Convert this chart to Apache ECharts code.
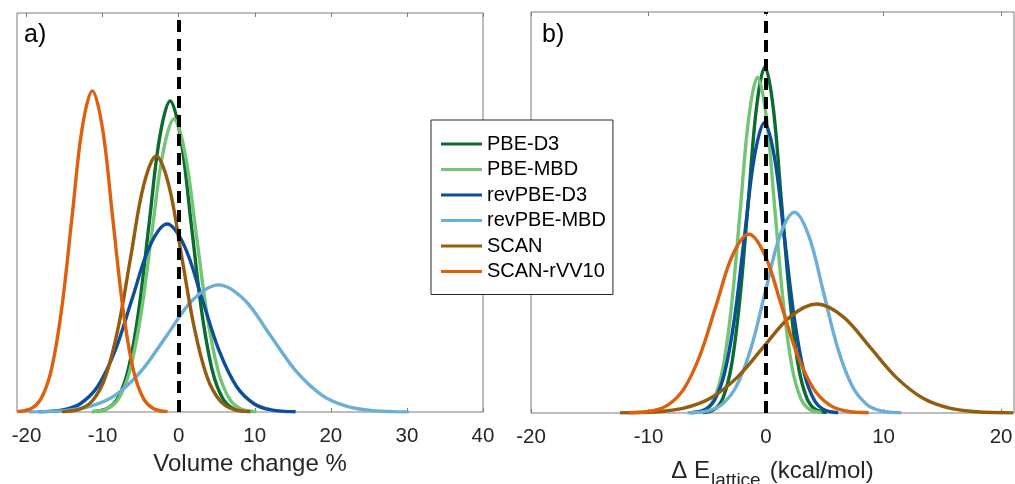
<!DOCTYPE html>
<html>
<head>
<meta charset="utf-8">
<title>Error distributions</title>
<script src="https://cdn.jsdelivr.net/npm/echarts@6/dist/echarts.min.js"></script>
<style>
  html, body { margin: 0; padding: 0; background: #fff; }
  #chart { width: 1015px; height: 484px; }
</style>
</head>
<body>
<div id="chart"></div>
<script>
// Methods shown in both panels (legend order)
const methods = ['PBE-D3', 'PBE-MBD', 'revPBE-D3', 'revPBE-MBD', 'SCAN', 'SCAN-rVV10'];

// Tick labels
const volumeTicks = [-20, -10, 0, 10, 20, 30, 40];
const energyTicks = [-20, -10, 0, 10, 20];

// Panel a) – distribution of volume change (%), [x, density]
const volumePbeD3 = [[-11.33,0.00015],[-9.40,0.00161],[-8.02,0.00635],[-6.64,0.01957],[-5.26,0.04694],[-3.88,0.08770],[-2.50,0.12761],[-1.12,0.1446],[0.26,0.12761],[1.64,0.08770],[3.02,0.04694],[4.40,0.01957],[5.78,0.00635],[7.16,0.00161],[9.09,0.00015]];
const volumePbeMbd = [[-11.45,0.00014],[-9.40,0.00151],[-7.94,0.00598],[-6.48,0.01843],[-5.01,0.04422],[-3.55,0.08261],[-2.08,0.12020],[-0.62,0.1362],[0.84,0.12020],[2.31,0.08261],[3.77,0.04422],[5.24,0.01843],[6.70,0.00598],[8.16,0.00151],[10.21,0.00014]];
const volumeRevPbeD3 = [[-18.41,0.00009],[-15.21,0.00097],[-12.93,0.00384],[-10.65,0.01183],[-8.37,0.02837],[-6.08,0.05301],[-3.80,0.07713],[-1.52,0.0874],[0.76,0.07713],[3.04,0.05301],[5.33,0.02837],[7.61,0.01183],[9.89,0.00384],[12.17,0.00097],[15.37,0.00009]];
const volumeRevPbeMbd = [[-19.75,0.00006],[-15.02,0.00066],[-11.64,0.00260],[-8.26,0.00800],[-4.88,0.01919],[-1.51,0.03585],[1.87,0.05216],[5.25,0.0591],[8.63,0.05216],[12.01,0.03585],[15.38,0.01919],[18.76,0.00800],[22.14,0.00260],[25.52,0.00066],[30.25,0.00006]];
const volumeScan = [[-15.35,0.00013],[-13.01,0.00132],[-11.33,0.00523],[-9.65,0.01611],[-7.98,0.03863],[-6.30,0.07218],[-4.63,0.10502],[-2.95,0.1190],[-1.27,0.10502],[0.40,0.07218],[2.08,0.03863],[3.75,0.01611],[5.43,0.00523],[7.11,0.00132],[9.45,0.00013]];
const volumeScanRvv10 = [[-21.24,0.00016],[-19.37,0.00166],[-18.03,0.00656],[-16.70,0.02021],[-15.36,0.04847],[-14.02,0.09055],[-12.69,0.13176],[-11.35,0.1493],[-10.01,0.13176],[-8.68,0.09055],[-7.34,0.04847],[-6.00,0.02021],[-4.67,0.00656],[-3.33,0.00166],[-1.46,0.00016]];

// Panel b) – distribution of lattice energy error (kcal/mol), [x, density]
const energyPbeD3 = [[-5.37,0.00030],[-4.37,0.00311],[-3.66,0.01231],[-2.95,0.03792],[-2.24,0.09097],[-1.52,0.16995],[-0.81,0.24728],[-0.10,0.2802],[0.61,0.24728],[1.32,0.16995],[2.04,0.09097],[2.75,0.03792],[3.46,0.01231],[4.17,0.00311],[5.17,0.00030]];
const energyPbeMbd = [[-6.16,0.00029],[-5.13,0.00302],[-4.39,0.01194],[-3.66,0.03677],[-2.92,0.08821],[-2.19,0.16479],[-1.46,0.23977],[-0.72,0.2717],[0.02,0.23977],[0.75,0.16479],[1.48,0.08821],[2.22,0.03677],[2.95,0.01194],[3.69,0.00302],[4.72,0.00029]];
const energyRevPbeD3 = [[-6.42,0.00025],[-5.23,0.00261],[-4.39,0.01032],[-3.54,0.03179],[-2.69,0.07626],[-1.84,0.14247],[-0.99,0.20730],[-0.14,0.2349],[0.71,0.20730],[1.56,0.14247],[2.41,0.07626],[3.26,0.03179],[4.11,0.01032],[4.95,0.00261],[6.14,0.00025]];
const energyRevPbeMbd = [[-6.68,0.00017],[-4.96,0.00180],[-3.73,0.00714],[-2.50,0.02198],[-1.27,0.05272],[-0.05,0.09850],[1.18,0.14332],[2.41,0.1624],[3.64,0.14332],[4.87,0.09850],[6.09,0.05272],[7.32,0.02198],[8.55,0.00714],[9.78,0.00180],[11.50,0.00017]];
const energyScan = [[-12.43,0.00009],[-9.26,0.00098],[-7.00,0.00388],[-4.74,0.01194],[-2.48,0.02863],[-0.21,0.05350],[2.05,0.07784],[4.31,0.0882],[6.57,0.07784],[8.83,0.05350],[11.10,0.02863],[13.36,0.01194],[15.62,0.00388],[17.88,0.00098],[21.05,0.00009]];
const energyScanRvv10 = [[-11.68,0.00015],[-9.75,0.00161],[-8.37,0.00635],[-6.99,0.01957],[-5.61,0.04694],[-4.23,0.08770],[-2.85,0.12761],[-1.47,0.1446],[-0.09,0.12761],[1.29,0.08770],[2.67,0.04694],[4.05,0.01957],[5.43,0.00635],[6.80,0.00161],[8.74,0.00015]];

const volumeCurves = [volumePbeD3, volumePbeMbd, volumeRevPbeD3, volumeRevPbeMbd, volumeScan, volumeScanRvv10];
const energyCurves = [energyPbeD3, energyPbeMbd, energyRevPbeD3, energyRevPbeMbd, energyScan, energyScanRvv10];

// Styling
const colors = ['#0b6b30', '#74c476', '#0b4f9c', '#6baed6', '#935c0f', '#dd600f'];
const FONT = '"Liberation Sans", Arial, Helvetica, sans-serif';
const TEXT = '#262626';
const BOX = '#7d7d7d';

const chart = echarts.init(document.getElementById('chart'), null, { renderer: 'canvas' });

function bottomAxis(gridIndex, min, max, ticks, name, nameGap, rich) {
  return {
    type: 'value', gridIndex, position: 'bottom', min, max,
    axisLine: { show: false },
    splitLine: { show: false },
    axisTick: { show: true, inside: true, length: 4, customValues: ticks, lineStyle: { color: BOX } },
    axisLabel: { show: true, customValues: ticks, margin: 14, color: TEXT, fontFamily: FONT, fontSize: 20.5 },
    name, nameLocation: 'middle', nameGap,
    nameTextStyle: Object.assign({ color: TEXT, fontFamily: FONT, fontSize: 24 }, rich ? { rich } : {})
  };
}
function topAxis(gridIndex, min, max, ticks) {
  return {
    type: 'value', gridIndex, position: 'top', min, max,
    axisLine: { show: false },
    splitLine: { show: false },
    axisTick: { show: true, inside: true, length: 4, customValues: ticks, lineStyle: { color: BOX } },
    axisLabel: { show: false }
  };
}

const zeroLine = {
  silent: true,
  symbol: ['none', 'none'],
  label: { show: false },
  lineStyle: { color: '#000', width: 4, type: [12, 7] },
  data: [{ xAxis: 0 }]
};

function curveSeries(curves, xAxisIndex, yAxisIndex) {
  return curves.map((data, i) => ({
    name: methods[i],
    type: 'line',
    xAxisIndex, yAxisIndex,
    data,
    smooth: 0.35,
    symbol: 'none',
    showSymbol: false,
    color: colors[i],
    lineStyle: { width: 3.4, color: colors[i] },
    markLine: i === curves.length - 1 ? zeroLine : undefined
  }));
}

const option = {
  animation: false,
  backgroundColor: '#fff',
  grid: [
    { left: 17, right: 532, top: 13, bottom: 72, outerBoundsMode: 'none', containLabel: false,
      show: true, borderColor: BOX, borderWidth: 1, backgroundColor: 'transparent' },
    { left: 531, right: 1, top: 12, bottom: 71, outerBoundsMode: 'none', containLabel: false,
      show: true, borderColor: BOX, borderWidth: 1, backgroundColor: 'transparent' }
  ],
  xAxis: [
    bottomAxis(0, -21.25, 40, volumeTicks, 'Volume change %', 38),
    topAxis(0, -21.25, 40, volumeTicks),
    bottomAxis(1, -20, 21.1, energyTicks, '{m|Δ E}{s|lattice}{p|(kcal/mol)}', 46, {
      m: { fontSize: 24, fontFamily: FONT, color: TEXT, verticalAlign: 'top' },
      s: { fontSize: 19, fontFamily: FONT, color: TEXT, verticalAlign: 'top', padding: [12, 0, 0, 1] },
      p: { fontSize: 24, fontFamily: FONT, color: TEXT, verticalAlign: 'top', padding: [0, 0, 0, 9] }
    }),
    topAxis(1, -20, 21.1, energyTicks)
  ],
  yAxis: [
    { type: 'value', gridIndex: 0, min: 0, max: 0.1855, show: false },
    { type: 'value', gridIndex: 1, min: 0, max: 0.3245, show: false }
  ],
  legend: {
    data: methods,
    orient: 'vertical',
    left: 431, top: 120,
    padding: [14, 7, 13, 10],
    itemGap: 5.5,
    itemWidth: 41,
    itemHeight: 12,
    backgroundColor: '#fff',
    borderColor: '#262626',
    borderWidth: 1,
    icon: 'path://M0,4.4 L41,4.4 L41,7.6 L0,7.6 Z',
    textStyle: { color: '#000', fontFamily: FONT, fontSize: 20 },
    itemStyle: { borderWidth: 0 },
    selectedMode: false,
    z: 10
  },
  graphic: [
    { type: 'text', left: 24, top: 23, z: 10, style: { text: 'a)', fontFamily: FONT, fontSize: 25, fill: '#000' } },
    { type: 'text', left: 542, top: 23, z: 10, style: { text: 'b)', fontFamily: FONT, fontSize: 25, fill: '#000' } }
  ],
  series: [
    ...curveSeries(volumeCurves, 0, 0),
    ...curveSeries(energyCurves, 2, 1)
  ]
};

chart.setOption(option);
</script>
</body>
</html>
